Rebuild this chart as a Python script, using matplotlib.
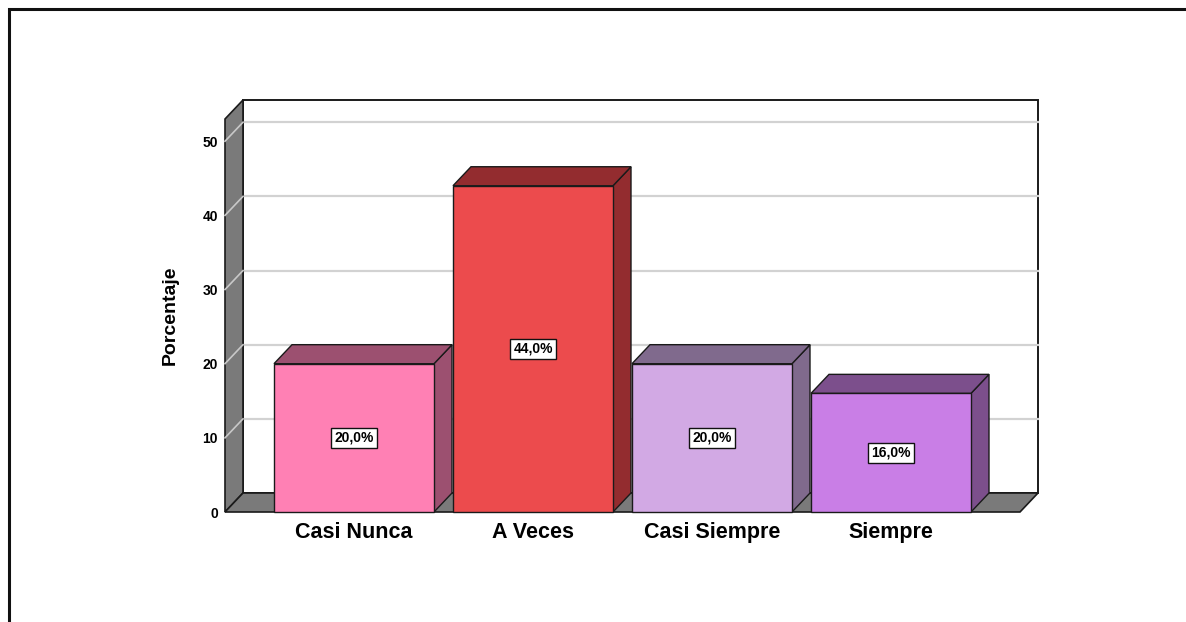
import matplotlib
matplotlib.use("Agg")
import matplotlib.pyplot as plt
from matplotlib.patches import Polygon, Rectangle

plt.rcParams['font.family'] = ['Liberation Sans', 'DejaVu Sans']

categories = ["Casi Nunca", "A Veces", "Casi Siempre", "Siempre"]
values = [20.0, 44.0, 20.0, 16.0]
front_colors = ["#FF80B4", "#EC4B4D", "#D2A9E4", "#C97EE6"]
dark_colors = ["#9C5070", "#932C2F", "#806A8D", "#7C4F8C"]
yticks = [0, 10, 20, 30, 40, 50]
ylabel = "Porcentaje"

W, H = 1186, 622
fig = plt.figure(figsize=(W / 100, H / 100), dpi=100)
fig.patch.set_facecolor("white")

# figure frame
fig.add_artist(Rectangle((8.5 / W, -0.2), 1.3, 1.2 - 8.5 / H, transform=fig.transFigure,
                         fill=False, edgecolor="#111111", lw=2.2))

ax = fig.add_axes([225 / W, (H - 512) / H, (1020 - 225) / W, (512 - 119) / H])
ymax = 53.0
xmin, xmax = -0.7207, 3.7207
ax.set_xlim(xmin, xmax)
ax.set_ylim(0, ymax)
for s in ax.spines.values():
    s.set_visible(False)
ax.patch.set_alpha(0)

dx = 18 / 179
dy = 19 / 7.415
bw = 160 / 179
edge = "#1a1a1a"

# back wall
ax.add_patch(Polygon([(xmin + dx, dy), (xmax + dx, dy), (xmax + dx, ymax + dy), (xmin + dx, ymax + dy)],
                     closed=True, facecolor="white", edgecolor=edge, lw=1.4, clip_on=False, zorder=1))
# gridlines on back wall and left wall
for t in yticks[1:]:
    ax.plot([xmin + dx, xmax + dx], [t + dy, t + dy], color="#d2d2d2", lw=1.6, clip_on=False, zorder=2)
# left wall
ax.add_patch(Polygon([(xmin, 0), (xmin + dx, dy), (xmin + dx, ymax + dy), (xmin, ymax)],
                     closed=True, facecolor="#7a7a7a", edgecolor=edge, lw=1.2, clip_on=False, zorder=3))
for t in yticks[1:]:
    ax.plot([xmin, xmin + dx], [t, t + dy], color="#c8c8c8", lw=1.2, clip_on=False, zorder=3.5)
# floor
ax.add_patch(Polygon([(xmin, 0), (xmax, 0), (xmax + dx, dy), (xmin + dx, dy)],
                     closed=True, facecolor="#7a7a7a", edgecolor=edge, lw=1.2, clip_on=False, zorder=4))

for i, (v, fc, dc) in enumerate(zip(values, front_colors, dark_colors)):
    x0, x1 = i - bw / 2, i + bw / 2
    z = 5 + i
    ax.add_patch(Polygon([(x1, 0), (x1 + dx, dy), (x1 + dx, v + dy), (x1, v)], closed=True,
                         facecolor=dc, edgecolor=edge, lw=1.0, clip_on=False, zorder=z))
    ax.add_patch(Polygon([(x0, v), (x1, v), (x1 + dx, v + dy), (x0 + dx, v + dy)], closed=True,
                         facecolor=dc, edgecolor=edge, lw=1.0, clip_on=False, zorder=z))
    ax.add_patch(Rectangle((x0, 0), bw, v, facecolor=fc, edgecolor=edge, lw=1.0,
                           clip_on=False, zorder=z + 0.1))
    ax.text(i, v / 2, f"{v:.1f}%".replace(".", ","), ha="center", va="center", fontsize=10,
            fontweight="bold", zorder=z + 0.2,
            bbox=dict(boxstyle="square,pad=0.22", facecolor="white", edgecolor="#111111", lw=1.0))

ax.set_xticks(range(len(categories)))
ax.set_xticklabels(categories, fontsize=15.5, fontweight="bold")
ax.set_yticks(yticks)
ax.set_yticklabels([str(t) for t in yticks], fontsize=10, fontweight="bold")
ax.tick_params(axis="x", length=0, pad=7)
ax.tick_params(axis="y", length=0, pad=5)
ax.set_ylabel(ylabel, fontsize=14, fontweight="bold", labelpad=17)

fig.savefig("out.png", dpi=100, facecolor="white")
